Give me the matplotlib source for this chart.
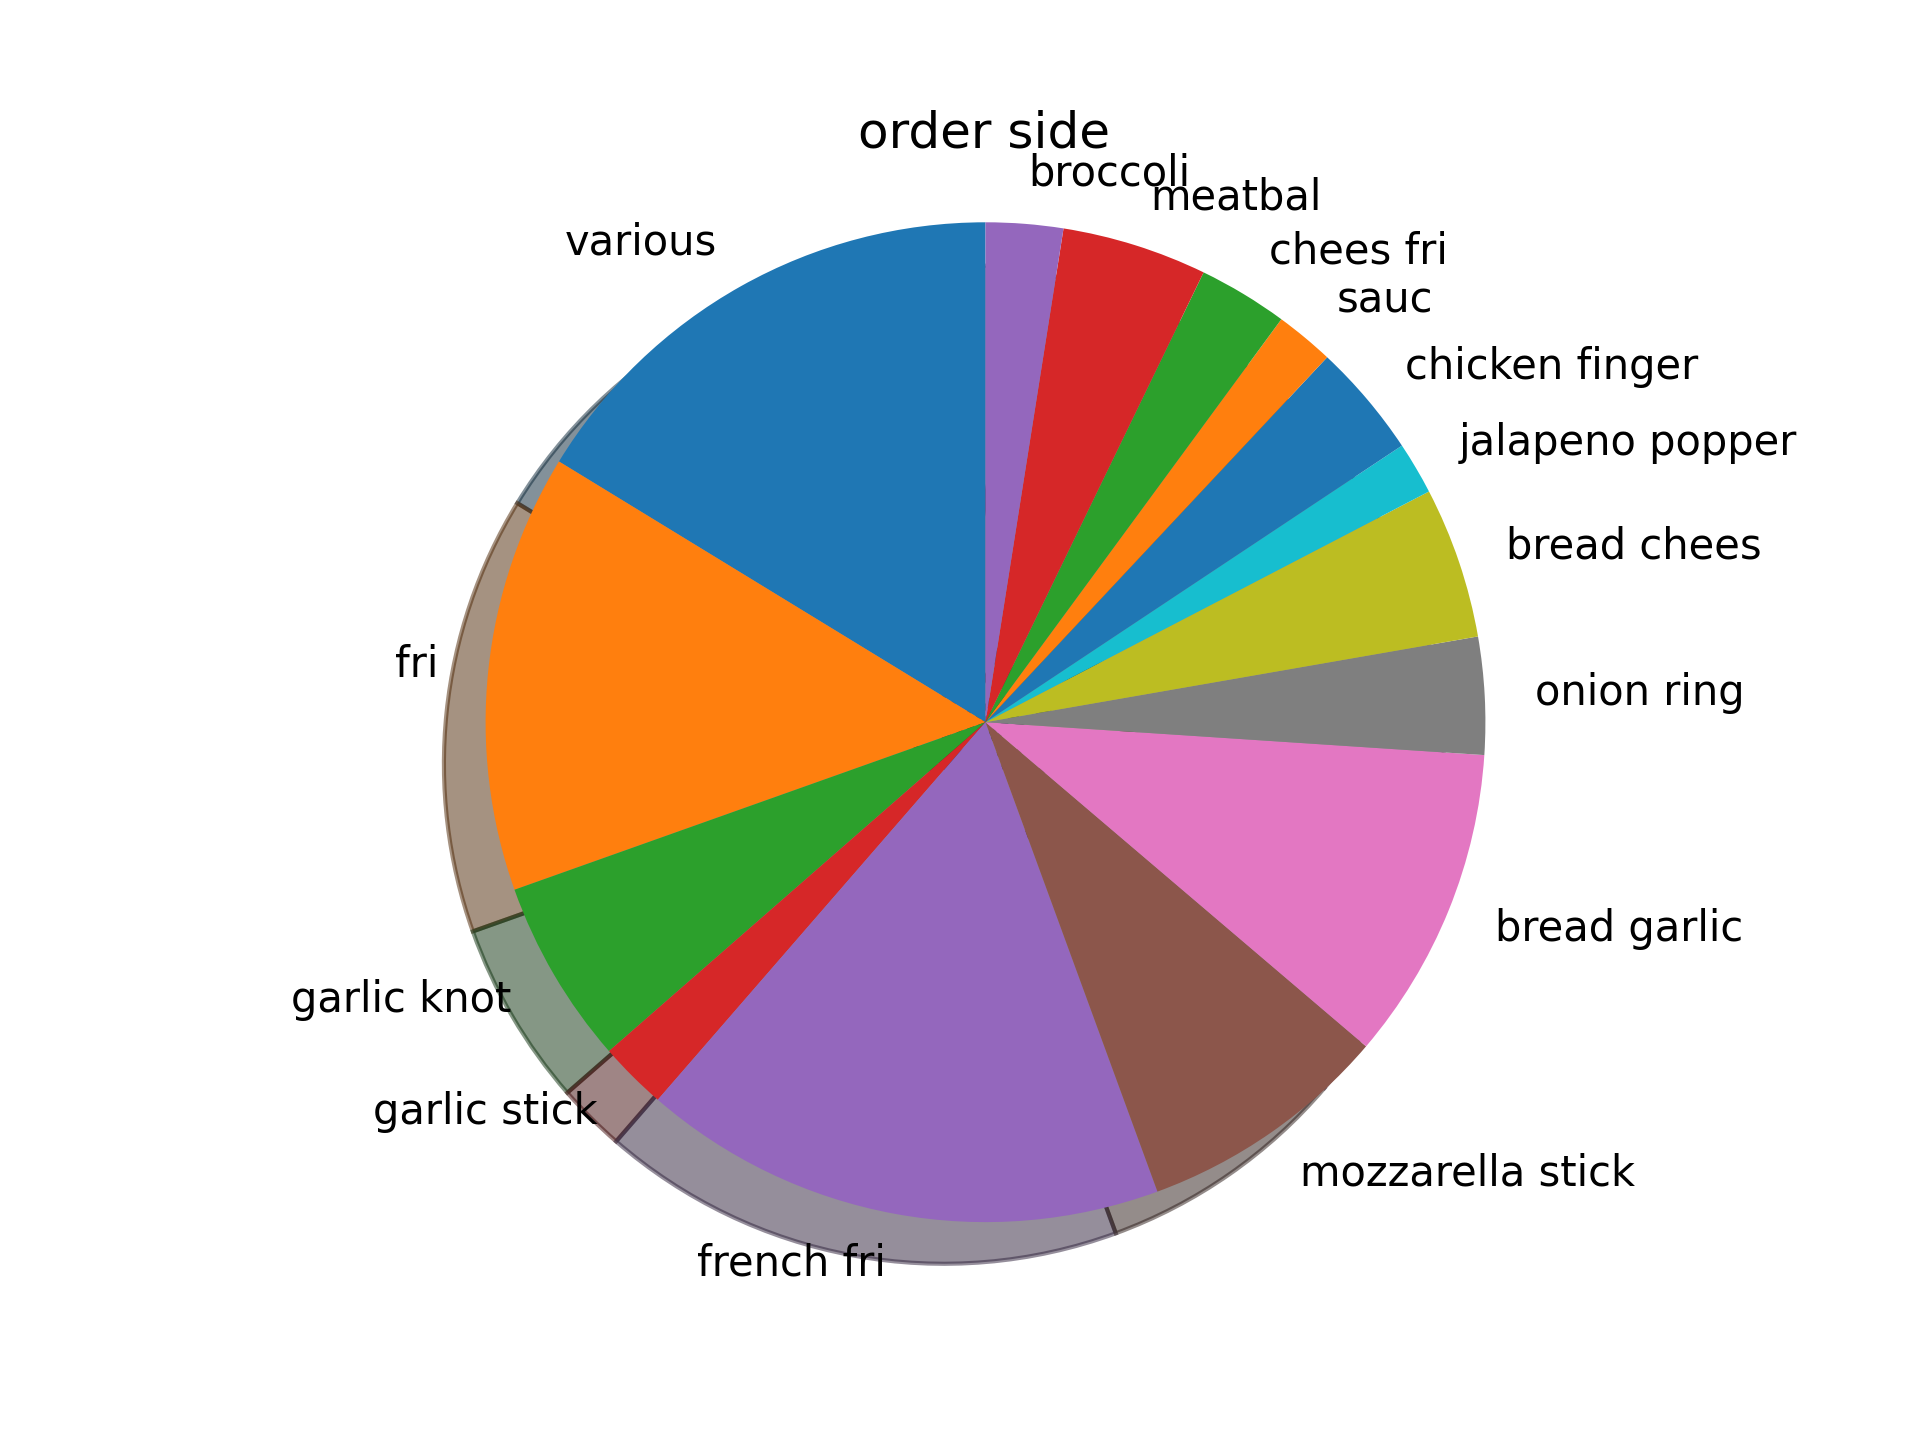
import matplotlib
matplotlib.use('Agg')
import matplotlib.pyplot as plt

# share of each side item (percent)
sides = ['various', 'fri', 'garlic knot', 'garlic stick', 'french fri',
         'mozzarella stick', 'bread garlic', 'onion ring', 'bread chees',
         'jalapeno popper', 'chicken finger', 'sauc', 'chees fri',
         'meatbal', 'broccoli']
share = [16.3, 14.2, 6.0, 2.2, 17.0, 8.2, 10.2, 3.8, 4.9, 1.7, 3.7, 1.9,
         2.9, 4.7, 2.5]

fig = plt.figure(figsize=(6.4, 4.8))
ax = fig.add_subplot(111)
ax.pie(share, labels=sides, shadow=True, startangle=90)
ax.set_xlim(-1.112, 1.106)
ax.set_ylim(-1.119, 1.099)
ax.set_title('order side')
plt.savefig('out.png', dpi=300)
